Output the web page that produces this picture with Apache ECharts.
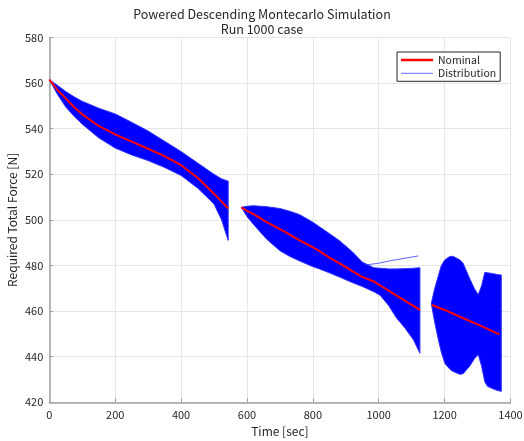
<!DOCTYPE html>
<html><head><meta charset="utf-8">
<script src="https://cdn.jsdelivr.net/npm/echarts@6/dist/echarts.min.js"></script>
<style>html,body{margin:0;padding:0;background:#fff}#c{width:524px;height:441px}</style>
</head><body><div id="c"></div>
<script>
// ---- axis ticks ----
const xTicks = [0, 200, 400, 600, 800, 1000, 1200, 1400];
const yTicks = [420, 440, 460, 480, 500, 520, 540, 560, 580];

// ---- segment 1 (0 - 543 s) ----
const t1    = [0, 25, 50, 75, 100, 150, 200, 250, 300, 350, 400, 450, 500, 523, 543];
const nom1  = [561.5, 557, 553.3, 549.5, 546.3, 541.2, 537.5, 534.3, 531.2, 528, 524, 518.5, 511.5, 508, 505];
const up1   = [561.5, 559, 556.3, 554, 552, 549, 546.5, 542.8, 539, 534.5, 530, 525, 520, 518, 517];
const lo1   = [561.5, 555, 549.5, 545.5, 542, 536, 531.5, 528.5, 526, 523, 519.5, 514, 507, 500, 491];

// ---- segment 2 (583 - 1125 s) ----
const t2    = [583, 600, 620, 660, 700, 730, 760, 800, 820, 850, 880, 920, 950, 985, 1004, 1030, 1054, 1080, 1105, 1125];
const nom2  = [505.5, 504, 502.5, 499, 496, 493.5, 491, 488, 486.3, 483.5, 481, 477.5, 475, 473, 471.3, 469, 466.8, 464.5, 462.3, 460.5];
const up2   = [505.5, 506, 506.2, 505.8, 505, 503.8, 502.3, 499, 497, 494, 491, 486, 481.5, 479, 478.8, 478.5, 478.5, 478.6, 478.8, 479];
const lo2   = [505.5, 501.5, 498, 491.5, 486.5, 484, 482, 479.5, 478.5, 476.8, 475, 472.5, 470.8, 468.5, 467, 462.5, 457, 452.5, 447.5, 441.5];
const tOut2 = [958, 1000, 1039, 1080, 1120];
const out2  = [480.2, 481, 482.2, 483.2, 484.2];

// ---- segment 3 (1160 - 1372 s) ----
const t3    = [1160, 1170, 1181, 1190, 1201, 1216, 1226, 1246, 1256, 1277, 1290, 1302, 1312, 1322, 1330, 1345, 1360, 1372];
const up3   = [463.6, 470, 475.5, 480, 482.5, 484, 484, 482.5, 481, 474, 470, 467.2, 471, 477, 476.8, 476.5, 476, 475.8];
const lo3   = [463, 455, 447.5, 442, 437, 434.5, 433.5, 432.3, 432.5, 436, 439, 441, 436, 429, 427, 426, 425.2, 424.8];
const tn3   = [1161, 1200, 1250, 1300, 1366];
const nom3  = [462.7, 460.5, 457.3, 454.2, 449.8];

const BLUE = '#0000ff', RED = '#ff0000';
const FONT = '"Noto Sans CJK JP", "Noto Sans", sans-serif';

function bandSeries(t, lo, up) {
  return {
    type: 'custom', name: 'Distribution', z: 2, clip: true, silent: true,
    data: t.map((x, i) => [x, lo[i], up[i]]),
    encode: { x: 0, y: [1, 2] },
    renderItem: function (params, api) {
      if (params.dataIndex !== 0) return null;
      const pts = [];
      for (let i = 0; i < t.length; i++) pts.push(api.coord([t[i], up[i]]));
      for (let i = t.length - 1; i >= 0; i--) pts.push(api.coord([t[i], lo[i]]));
      return { type: 'polygon', shape: { points: pts },
               style: { fill: BLUE, stroke: '#3030ff', lineWidth: 1 } };
    }
  };
}
function lineSeries(name, t, v, color, width, z) {
  return { type: 'line', name: name, z: z, symbol: 'none', silent: true,
           data: t.map((x, i) => [x, v[i]]),
           lineStyle: { color: color, width: width }, itemStyle: { color: color } };
}

const chart = echarts.init(document.getElementById('c'), null, { renderer: 'canvas' });
chart.setOption({
  animation: false,
  backgroundColor: '#fff',
  textStyle: { fontFamily: FONT },
  title: {
    text: 'Powered Descending Montecarlo Simulation\nRun 1000 case',
    left: 'center', top: 2, padding: [5, 0, 5, 36],
    textStyle: { fontFamily: FONT, fontSize: 12.5, fontWeight: 'normal', color: '#262626', lineHeight: 14.5, align: 'center' }
  },
  legend: {
    left: 397, top: 52, orient: 'vertical',
    padding: [2, 4, 2, 4], itemGap: 1.3, itemWidth: 32, itemHeight: 10,
    symbolKeepAspect: true,
    backgroundColor: '#fff', borderColor: '#262626', borderWidth: 1,
    textStyle: { fontFamily: FONT, fontSize: 10.5, color: '#262626', lineHeight: 12 },
    data: [
      { name: 'Nominal', icon: 'path://M0,0h32v2.5h-32z', itemStyle: { color: RED, borderWidth: 0 } },
      { name: 'Distribution', icon: 'path://M0,0h32v1h-32z', itemStyle: { color: '#6a6aff', borderWidth: 0 } }
    ]
  },
  grid: { left: 49.3, right: 13.5, top: 37.5, bottom: 38.7, containLabel: false, outerBoundsMode: 'none' },
  xAxis: {
    type: 'value', min: xTicks[0], max: xTicks[xTicks.length - 1], interval: 200,
    name: 'Time [sec]', nameLocation: 'middle', nameGap: 21,
    nameTextStyle: { fontFamily: FONT, fontSize: 12, color: '#262626' },
    axisLine: { show: true, onZero: false, lineStyle: { color: '#a0a0a0', width: 1.5 } },
    axisTick: { show: true, inside: true, length: 4, lineStyle: { color: '#a0a0a0' } },
    axisLabel: { fontFamily: FONT, fontSize: 11, color: '#262626', margin: 7, formatter: v => String(v) },
    splitLine: { show: true, lineStyle: { color: '#e6e6e6', width: 1 } }
  },
  yAxis: {
    type: 'value', min: yTicks[0], max: yTicks[yTicks.length - 1], interval: 20,
    name: 'Required Total Force [N]', nameLocation: 'middle', nameGap: 31, nameRotate: 90,
    nameMoveOverlap: false,
    nameTextStyle: { fontFamily: FONT, fontSize: 12, color: '#262626' },
    axisLine: { show: true, onZero: false, lineStyle: { color: '#a0a0a0', width: 1.5 } },
    axisTick: { show: true, inside: true, length: 4, lineStyle: { color: '#a0a0a0' } },
    axisLabel: { fontFamily: FONT, fontSize: 11, color: '#262626', margin: 6, formatter: v => String(v) },
    splitLine: { show: true, lineStyle: { color: '#e6e6e6', width: 1 } }
  },
  series: [
    bandSeries(t1, lo1, up1),
    bandSeries(t2, lo2, up2),
    bandSeries(t3, lo3, up3),
    lineSeries('Distribution', tOut2, out2, '#3a3aff', 0.8, 3),
    lineSeries('Nominal', t1, nom1, RED, 2, 5),
    lineSeries('Nominal', t2, nom2, RED, 2, 5),
    lineSeries('Nominal', tn3, nom3, RED, 2, 5)
  ]
});
</script>
</body></html>
